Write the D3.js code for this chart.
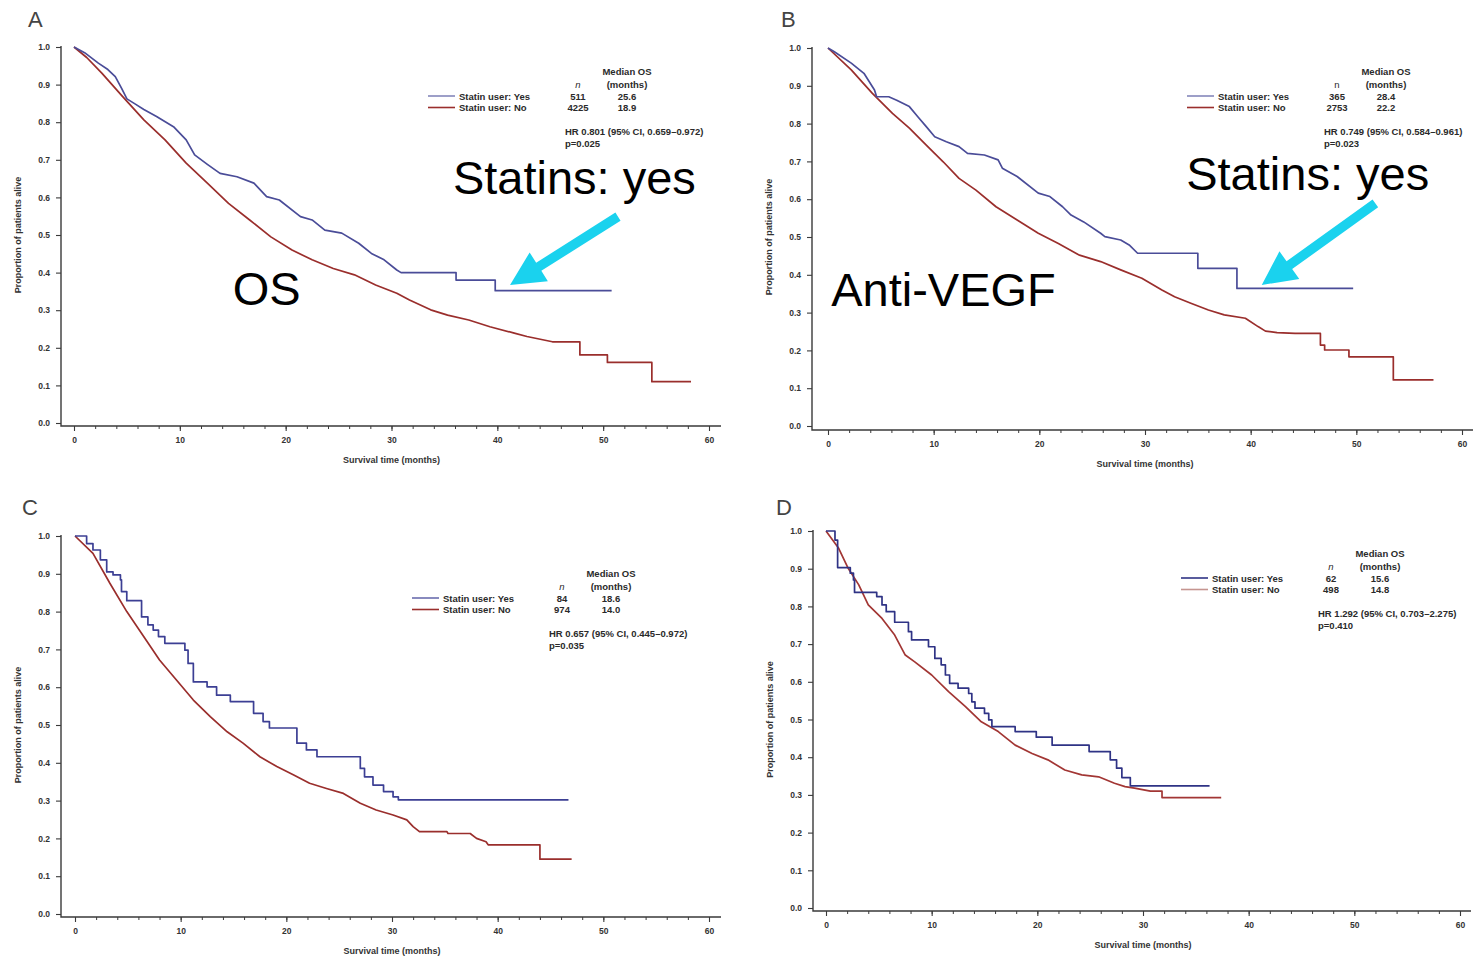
<!DOCTYPE html>
<html>
<head>
<meta charset="utf-8">
<script src="https://cdn.jsdelivr.net/npm/d3@7"></script>
<style>
  body { margin: 0; background: #fff; }
  svg { display: block; }
  text { font-family: "Liberation Sans", Arial, sans-serif; }
</style>
</head>
<body>
<svg id="fig" width="1474" height="959"></svg>
<script>
// Kaplan–Meier overall survival, statin users vs non-users, four cohorts (A–D)

const monthTicks = d3.range(0, 61, 10);
const minorMonthTicks = d3.range(0, 61, 2);
const survivalTicks = d3.range(0, 11).map(i => i / 10);

const panelLetters = ["A", "B", "C", "D"];
const seriesLabels = ["Statin user: Yes", "Statin user: No"];
const nYes = ["511", "365", "84", "62"];
const nNo = ["4225", "2753", "974", "498"];
const medianYes = ["25.6", "28.4", "18.6", "15.6"];
const medianNo = ["18.9", "22.2", "14.0", "14.8"];
const hrLabels = [
  "HR 0.801 (95% CI, 0.659–0.972)",
  "HR 0.749 (95% CI, 0.584–0.961)",
  "HR 0.657 (95% CI, 0.445–0.972)",
  "HR 1.292 (95% CI, 0.703–2.275)"
];
const pLabels = ["p=0.025", "p=0.023", "p=0.035", "p=0.410"];

// curve vertices: [months, proportion alive]
const survYesA = [[0,1],[1.0,0.985],[2.3,0.957],[3.2,0.940],[3.9,0.921],[4.5,0.890],[5.0,0.862],[5.8,0.848],[6.6,0.834],[7.8,0.815],[9.4,0.788],[10.6,0.753],[11.4,0.713],[12.6,0.688],[13.8,0.664],[15.4,0.655],[17.0,0.638],[18.2,0.602],[19.4,0.593],[21.4,0.549],[22.5,0.540],[23.7,0.513],[25.3,0.505],[26.9,0.478],[28.1,0.451],[29.3,0.434],[30.5,0.407],[30.9,0.400],[36.1,0.400],[36.1,0.380],[39.8,0.380],[39.8,0.352],[50.8,0.352]];
const survNoA = [[0,1],[1.2,0.972],[2.65,0.930],[4.6,0.868],[6.6,0.806],[8.6,0.753],[10.6,0.691],[12.6,0.638],[14.6,0.584],[16.6,0.540],[18.6,0.495],[20.6,0.460],[22.5,0.434],[24.5,0.411],[26.5,0.394],[28.5,0.367],[30.5,0.345],[31.7,0.327],[33.7,0.301],[35.3,0.287],[37.3,0.274],[39.3,0.256],[41.6,0.239],[42.8,0.230],[45.2,0.216],[47.8,0.216],[47.8,0.181],[50.4,0.181],[50.4,0.161],[54.6,0.161],[54.6,0.110],[58.3,0.110]];

const survYesB = [[0,1],[0.6,0.99],[2.2,0.96],[3.4,0.933],[4.4,0.889],[4.6,0.871],[5.75,0.871],[6.5,0.862],[7.7,0.845],[8.5,0.818],[9.3,0.792],[10.1,0.765],[11.2,0.752],[12.4,0.739],[13.2,0.721],[14.8,0.717],[16.1,0.704],[16.5,0.682],[17.9,0.660],[19.9,0.616],[21.0,0.607],[22.2,0.580],[23.0,0.558],[24.2,0.540],[25.8,0.510],[26.2,0.501],[27.7,0.492],[28.5,0.479],[29.3,0.457],[35.0,0.457],[35.0,0.417],[38.7,0.417],[38.7,0.364],[49.7,0.364]];
const survNoB = [[0,1],[2.2,0.942],[4.2,0.880],[6.1,0.827],[7.7,0.788],[9.3,0.743],[10.9,0.699],[12.4,0.655],[14.0,0.624],[15.9,0.580],[17.9,0.545],[19.9,0.510],[21.8,0.483],[23.8,0.452],[25.8,0.435],[27.7,0.413],[29.7,0.391],[31.6,0.360],[32.8,0.342],[34.4,0.324],[36.0,0.307],[37.5,0.294],[39.5,0.285],[40.7,0.263],[41.4,0.251],[42.5,0.247],[44.2,0.245],[46.6,0.245],[46.6,0.214],[47.0,0.214],[47.0,0.201],[49.3,0.201],[49.3,0.183],[53.5,0.183],[53.5,0.122],[57.3,0.122]];

// small cohorts: step events [month, proportion after event]
const survYesC = [[0,1],[1.1,0.98],[1.7,0.963],[2.4,0.937],[3.0,0.905],[3.6,0.897],[4.3,0.884],[4.4,0.853],[4.9,0.829],[6.3,0.786],[6.9,0.765],[7.4,0.751],[7.9,0.734],[8.5,0.716],[10.4,0.698],[10.7,0.663],[11.2,0.614],[12.5,0.601],[13.4,0.579],[14.7,0.562],[16.9,0.531],[17.8,0.509],[18.4,0.492],[21.0,0.452],[21.9,0.434],[22.9,0.416],[27.0,0.385],[27.4,0.363],[28.2,0.341],[29.2,0.324],[30.1,0.310],[30.6,0.302],[46.7,0.302]];
const survNoC = [[0,1],[1.7,0.954],[3.3,0.875],[4.9,0.800],[6.5,0.734],[8.0,0.672],[9.6,0.619],[11.2,0.566],[12.8,0.522],[14.4,0.482],[15.9,0.452],[17.5,0.416],[19.1,0.390],[20.7,0.368],[22.2,0.346],[23.8,0.332],[25.4,0.319],[27.0,0.293],[28.5,0.275],[30.1,0.262],[31.4,0.249],[32.0,0.231],[32.6,0.218],[35.2,0.218],[35.3,0.213],[37.4,0.213],[38.0,0.200],[38.9,0.191],[39.1,0.183],[44.0,0.183],[44.0,0.145],[47.0,0.145]];

const survYesD = [[0,1],[0.85,0.976],[1.1,0.903],[2.3,0.888],[2.6,0.870],[2.7,0.837],[4.8,0.826],[5.3,0.804],[5.7,0.786],[6.5,0.758],[7.8,0.733],[8.1,0.711],[9.7,0.693],[10.3,0.662],[10.9,0.645],[11.3,0.618],[11.7,0.596],[12.5,0.583],[13.5,0.569],[13.8,0.547],[14.1,0.530],[15.0,0.516],[15.4,0.499],[15.7,0.481],[17.9,0.468],[19.9,0.453],[21.4,0.432],[24.9,0.415],[26.9,0.393],[27.5,0.371],[28.0,0.346],[28.8,0.324],[36.3,0.324]];
const survNoD = [[0,1],[1.2,0.954],[2.1,0.901],[3.1,0.857],[4.0,0.804],[5.3,0.768],[6.5,0.724],[7.5,0.671],[8.4,0.653],[10.0,0.618],[11.6,0.574],[13.2,0.534],[14.7,0.494],[16.3,0.468],[17.9,0.432],[19.5,0.410],[21.0,0.393],[22.6,0.366],[24.2,0.353],[25.8,0.348],[27.3,0.331],[28.3,0.322],[29.2,0.318],[30.7,0.310],[31.8,0.310],[31.8,0.293],[37.4,0.293]];

// call-out text and arrows, in data units [months, proportion]
const calloutsA = [
  { text: "Statins: yes", at: [35.8, 0.609] },
  { text: "OS", at: [15.0, 0.314] }
];
const calloutsB = [
  { text: "Statins: yes", at: [33.9, 0.624] },
  { text: "Anti-VEGF", at: [0.3, 0.317] }
];
const arrowA = { from: [51.4, 0.549], to: [41.2, 0.367] };
const arrowB = { from: [51.8, 0.589], to: [41.05, 0.373] };

// ---- layout & style ----
const BLUE = "#4a4c98";
const RED = "#9a2e2c";

const panels = [
  { xr: [74, 709],   yr: [423, 47],  axisX: 61,  axisY: 426, xEnd: 721,  letter: [28, 27],
    legend: [428, 96], yes: survYesA, no: survNoA, stepYes: false, stepNo: false,
    colYes: BLUE, colNo: RED, legYes: "#8587bb", legNo: RED,
    callouts: calloutsA, arrow: arrowA },
  { xr: [828, 1462], yr: [426, 48],  axisX: 812, axisY: 430, xEnd: 1473, letter: [781, 27],
    legend: [1187, 96], yes: survYesB, no: survNoB, stepYes: false, stepNo: false,
    colYes: BLUE, colNo: RED, legYes: "#8587bb", legNo: RED,
    callouts: calloutsB, arrow: arrowB },
  { xr: [75, 709],   yr: [914, 536], axisX: 61,  axisY: 917, xEnd: 721,  letter: [22, 515],
    legend: [412, 598], yes: survYesC, no: survNoC, stepYes: true, stepNo: false,
    colYes: "#3c3f94", colNo: RED, legYes: "#6a6cae", legNo: RED,
    callouts: [], arrow: null },
  { xr: [826, 1460], yr: [908, 531], axisX: 813, axisY: 911, xEnd: 1471, letter: [776, 515],
    legend: [1181, 578], yes: survYesD, no: survNoD, stepYes: true, stepNo: false,
    colYes: "#2f3385", colNo: "#a23634", legYes: "#2f3385", legNo: "#c59590",
    callouts: [], arrow: null }
];

const svg = d3.select("#fig");
const AXIS = "#3a3a3a";

panels.forEach((p, i) => {
  const x = d3.scaleLinear().domain([0, 60]).range(p.xr);
  const y = d3.scaleLinear().domain([0, 1]).range(p.yr);
  const g = svg.append("g");

  // panel letter
  g.append("text").attr("x", p.letter[0]).attr("y", p.letter[1])
    .attr("font-size", 22).attr("fill", "#444").text(panelLetters[i]);

  // axes
  const yAxis = d3.axisLeft(y).tickValues(survivalTicks).tickFormat(d3.format(".1f"))
    .tickSize(5).tickPadding(6).tickSizeOuter(0);
  const ya = g.append("g").attr("transform", `translate(${p.axisX},0)`).call(yAxis);
  ya.select(".domain").remove();
  ya.selectAll("line").attr("stroke", AXIS).attr("stroke-width", 1.1);
  ya.selectAll("text").attr("font-size", 8.5).attr("font-weight", "bold").attr("fill", "#333")
    .attr("font-family", "'Liberation Sans', Arial, sans-serif");

  const xMinor = d3.axisBottom(x).tickValues(minorMonthTicks).tickFormat("").tickSize(3).tickSizeOuter(0);
  const xm = g.append("g").attr("transform", `translate(0,${p.axisY})`).call(xMinor);
  xm.select(".domain").remove();
  xm.selectAll("line").attr("stroke", AXIS).attr("stroke-width", 1);

  const xAxis = d3.axisBottom(x).tickValues(monthTicks).tickSize(5).tickPadding(6).tickSizeOuter(0);
  const xa = g.append("g").attr("transform", `translate(0,${p.axisY})`).call(xAxis);
  xa.select(".domain").remove();
  xa.selectAll("line").attr("stroke", AXIS).attr("stroke-width", 1.1);
  xa.selectAll("text").attr("font-size", 8.5).attr("font-weight", "bold").attr("fill", "#333")
    .attr("font-family", "'Liberation Sans', Arial, sans-serif");

  g.append("path")
    .attr("d", `M${p.axisX},${y(1) - 1}V${p.axisY}H${p.xEnd}`)
    .attr("fill", "none").attr("stroke", AXIS).attr("stroke-width", 1.4);

  // axis titles
  g.append("text")
    .attr("x", x(30)).attr("y", p.axisY + 37)
    .attr("text-anchor", "middle").attr("font-size", 9).attr("font-weight", "bold").attr("fill", "#333")
    .text("Survival time (months)");
  g.append("text")
    .attr("transform", `translate(${p.axisX - 40},${y(0.5)}) rotate(-90)`)
    .attr("text-anchor", "middle").attr("font-size", 9).attr("font-weight", "bold").attr("fill", "#333")
    .text("Proportion of patients alive");

  // survival curves
  const lineLin = d3.line().x(d => x(d[0])).y(d => y(d[1])).curve(d3.curveLinear);
  const lineStep = d3.line().x(d => x(d[0])).y(d => y(d[1])).curve(d3.curveStepAfter);
  g.append("path").datum(p.no)
    .attr("d", p.stepNo ? lineStep : lineLin)
    .attr("fill", "none").attr("stroke", p.colNo).attr("stroke-width", 1.7)
    .attr("stroke-linejoin", "round");
  g.append("path").datum(p.yes)
    .attr("d", p.stepYes ? lineStep : lineLin)
    .attr("fill", "none").attr("stroke", p.colYes).attr("stroke-width", 1.7)
    .attr("stroke-linejoin", "round");

  // legend block
  const [lx, ly] = p.legend;
  const leg = g.append("g").attr("font-size", 9.5).attr("font-weight", "bold").attr("fill", "#2a2a2a");
  const rows = [
    { label: seriesLabels[0], n: nYes[i], med: medianYes[i], col: p.legYes },
    { label: seriesLabels[1], n: nNo[i], med: medianNo[i], col: p.legNo }
  ];
  leg.append("text").attr("x", lx + 199).attr("y", ly - 21).attr("text-anchor", "middle").text("Median OS");
  leg.append("text").attr("x", lx + 199).attr("y", ly - 8).attr("text-anchor", "middle").text("(months)");
  leg.append("text").attr("x", lx + 150).attr("y", ly - 8).attr("text-anchor", "middle")
    .attr("font-style", i === 1 ? "normal" : "italic").attr("font-weight", "normal").text("n");
  rows.forEach((r, k) => {
    const yy = ly + k * 11.5;
    leg.append("line").attr("x1", lx).attr("x2", lx + 27).attr("y1", yy).attr("y2", yy)
      .attr("stroke", r.col).attr("stroke-width", 1.6);
    leg.append("text").attr("x", lx + 31).attr("y", yy + 3.5).text(r.label);
    leg.append("text").attr("x", lx + 150).attr("y", yy + 3.5).attr("text-anchor", "middle").text(r.n);
    leg.append("text").attr("x", lx + 199).attr("y", yy + 3.5).attr("text-anchor", "middle").text(r.med);
  });
  leg.append("text").attr("x", lx + 137).attr("y", ly + 39).text(hrLabels[i]);
  leg.append("text").attr("x", lx + 137).attr("y", ly + 51).text(pLabels[i]);

  // call-outs
  p.callouts.forEach(c => {
    g.append("text").attr("x", x(c.at[0])).attr("y", y(c.at[1]))
      .attr("font-size", 47).attr("fill", "#000").text(c.text);
  });
  if (p.arrow) {
    const x1 = x(p.arrow.from[0]), y1 = y(p.arrow.from[1]);
    const x2 = x(p.arrow.to[0]), y2 = y(p.arrow.to[1]);
    const len = Math.hypot(x2 - x1, y2 - y1);
    const ux = (x2 - x1) / len, uy = (y2 - y1) / len;
    const nx = -uy, ny = ux;
    const shaft = 4.8, head = 17, headLen = 34;
    const bx = x2 - ux * headLen, by = y2 - uy * headLen;
    const pts = [
      [x1 + nx * shaft, y1 + ny * shaft],
      [bx + nx * shaft, by + ny * shaft],
      [bx + nx * head, by + ny * head],
      [x2, y2],
      [bx - nx * head, by - ny * head],
      [bx - nx * shaft, by - ny * shaft],
      [x1 - nx * shaft, y1 - ny * shaft]
    ];
    g.append("polygon").attr("points", pts.map(q => q.join(",")).join(" "))
      .attr("fill", "#1ad2ee");
  }
});
</script>
</body>
</html>
